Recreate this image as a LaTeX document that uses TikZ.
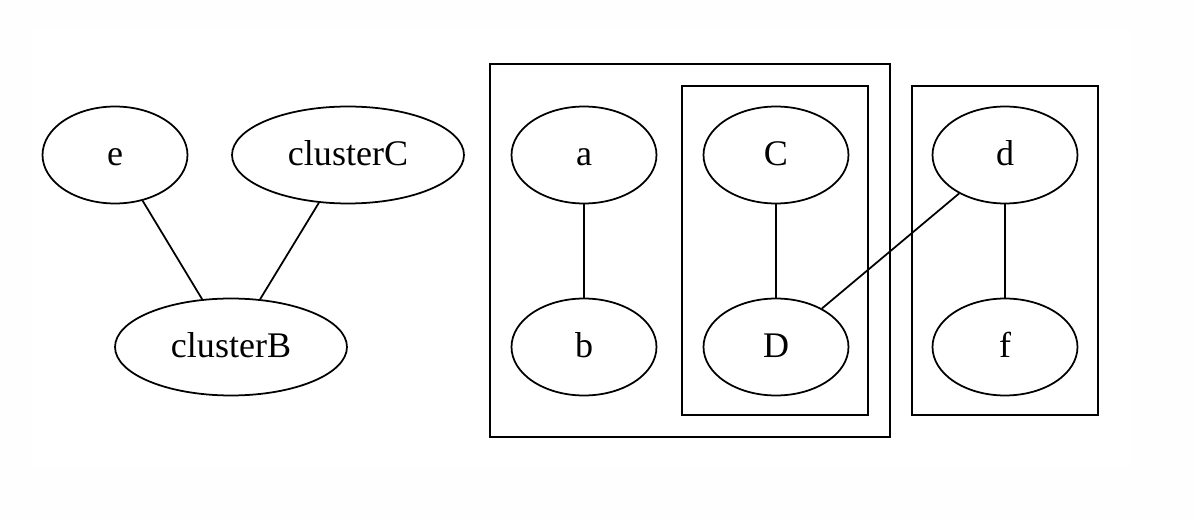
\documentclass[tikz,border=0pt]{standalone}
\usepackage{fontspec}
\setmainfont{Liberation Serif}
\usetikzlibrary{shapes.geometric}
\tikzset{
  vert/.style={draw, ellipse, line width=1pt, inner sep=0pt,
    minimum width=2.9cm, minimum height=1.94cm, text height=0.5cm, text depth=0.06cm,
    font=\fontsize{20.5}{24}\selectfont},
  wide/.style={minimum width=4.64cm},
  clus/.style={draw, line width=1pt}
}
\begin{document}
\begin{tikzpicture}[x=0.02cm, y=-0.02cm]
      \useasboundingbox[fill=gray!1] (0,0) rectangle (1194,520);
      \fill[white] (32,30) rectangle (1132,466);
      % clusters
      \draw[clus] (490,64) rectangle (890,437);
      \draw[clus] (682,86) rectangle (868,415);
      \draw[clus] (912,86) rectangle (1098,415);
      \draw
        (115,155) node[vert] (e){e}
        (348,155) node[vert, wide] (cC){clusterC}
        (231,347) node[vert, wide] (cB){clusterB}
        (584,155) node[vert] (a){a}
        (584,347) node[vert] (b){b}
        (776,155) node[vert] (C){C}
        (776,347) node[vert] (D){D}
        (1005,155) node[vert] (d){d}
        (1005,347) node[vert] (f){f};
      \begin{scope}[-, line width=1pt]
        \draw (e) to (cB);
        \draw (cC) to (cB);
        \draw (a) to (b);
        \draw (C) to (D);
        \draw (d) to (D);
        \draw (d) to (f);
      \end{scope}
    \end{tikzpicture}
\end{document}
